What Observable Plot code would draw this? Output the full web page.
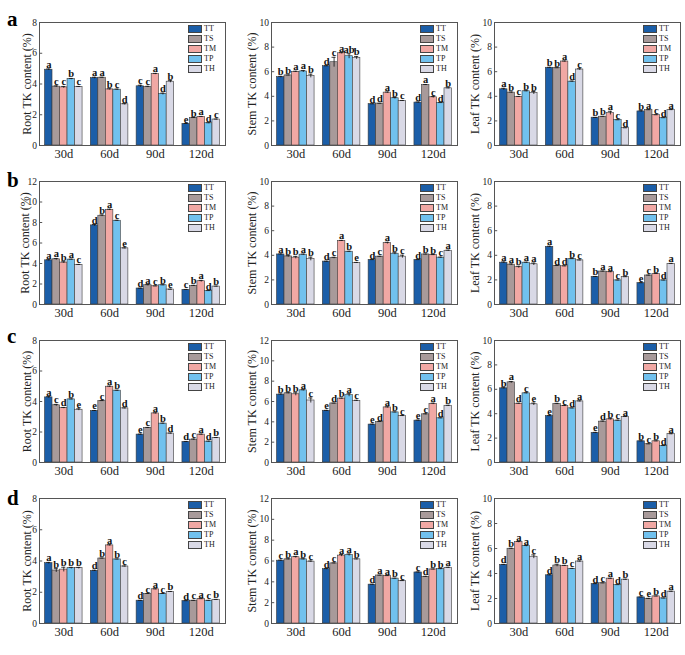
<!DOCTYPE html>
<html><head><meta charset="utf-8">
<script src="https://cdn.jsdelivr.net/npm/d3@7"></script>
<script src="https://cdn.jsdelivr.net/npm/@observablehq/plot@0.6"></script>
<style>
body{margin:0;background:#fff;}
#fig{position:relative;width:685px;height:655px;font-family:"Liberation Serif","Times New Roman",serif;overflow:hidden;}
.panel{position:absolute;}
.plabel{position:absolute;font-weight:bold;font-size:21px;line-height:1;}
.leg{position:absolute;font-size:8px;line-height:1;color:#222;}
.legrow{display:flex;align-items:center;height:10px;}
.sw{width:14px;height:8px;border:0.8px solid #444;box-sizing:border-box;margin-right:2px;}
</style>
</head><body>
<div id="fig"></div>
<script>
// ---------- data ----------
const days = ["30d", "60d", "90d", "120d"];
const treatments = ["TT", "TS", "TM", "TP", "TH"];
const colors = ["#1b5ea8", "#a89a9a", "#f1a8a4", "#71c1ee", "#d9d9e6"];

// row a
const aRoot = [[4.93,3.83,3.78,4.32,3.81],[4.39,4.41,3.65,3.63,2.68],[3.85,3.81,4.65,3.35,4.15],[1.41,1.79,1.86,1.45,1.69]];
const aRootErr = [[0.05,0.05,0.06,0.04,0.03],[0.05,0.03,0.04,0.04,0.04],[0.07,0.04,0.04,0.06,0.07],[0.02,0.03,0.03,0.03,0.03]];
const aRootSig = ["accbc","aabcd","ccadb","ebadc"];
const aStem = [[5.56,5.70,5.99,6.02,5.65],[6.45,6.77,7.50,7.26,7.12],[3.36,3.41,4.30,3.84,3.63],[3.49,4.92,3.92,3.47,4.65]];
const aStemErr = [[0.06,0.03,0.05,0.08,0.15],[0.03,0.40,0.05,0.20,0.12],[0.03,0.02,0.05,0.06,0.03],[0.05,0.04,0.06,0.02,0.04]];
const aStemSig = [["b","b","a","a","b"],["d","c","a","ab","b"],["d","d","a","b","c"],["d","a","c","d","b"]];
const aLeaf = [[4.57,4.30,3.95,4.41,4.27],[6.32,6.29,6.83,5.19,6.18],[2.26,2.34,2.63,2.07,1.42],[2.77,2.88,2.47,2.23,2.88]];
const aLeafErr = [[0.08,0.05,0.04,0.04,0.12],[0.04,0.03,0.04,0.05,0.06],[0.02,0.03,0.15,0.02,0.02],[0.06,0.03,0.03,0.03,0.04]];
const aLeafSig = ["abcbb","bbadc","bbacd","bacda"];
// row b
const bRoot = [[4.31,4.41,4.09,4.38,3.86],[7.72,8.66,9.24,8.17,5.48],[1.56,1.88,1.78,1.88,1.46],[1.43,1.82,2.27,1.33,1.75]];
const bRootErr = [[0.06,0.08,0.08,0.04,0.05],[0.08,0.08,0.06,0.05,0.04],[0.03,0.06,0.03,0.04,0.03],[0.04,0.05,0.08,0.03,0.04]];
const bRootSig = ["aabac","dbace","dacbe","cbadb"];
const bStem = [[4.07,3.91,3.81,4.05,3.70],[3.49,3.78,5.17,4.29,3.38],[3.62,3.89,4.99,4.13,3.89],[3.62,4.07,4.02,3.81,4.37]];
const bStemErr = [[0.04,0.06,0.10,0.05,0.15],[0.03,0.06,0.04,0.04,0.04],[0.03,0.03,0.07,0.08,0.12],[0.03,0.03,0.04,0.04,0.05]];
const bStemSig = ["abbab","dcabe","dcabc","dbbca"];
const bLeaf = [[3.40,3.24,3.03,3.40,3.27],[4.69,3.14,3.11,3.70,3.59],[2.25,2.68,2.63,1.96,2.23],[1.74,2.36,2.49,1.96,3.30]];
const bLeafErr = [[0.06,0.06,0.08,0.04,0.10],[0.05,0.03,0.03,0.03,0.03],[0.03,0.04,0.04,0.03,0.03],[0.03,0.03,0.03,0.03,0.04]];
const bLeafSig = ["aabaa","addbc","baacb","ecbda"];
// row c
const cRoot = [[4.27,3.75,3.57,4.14,3.46],[3.38,4.03,4.97,4.71,3.55],[1.83,2.27,3.22,2.55,1.90],[1.35,1.50,1.83,1.37,1.61]];
const cRootErr = [[0.05,0.06,0.04,0.03,0.06],[0.03,0.03,0.04,0.03,0.03],[0.03,0.03,0.04,0.03,0.03],[0.03,0.04,0.03,0.03,0.03]];
const cRootSig = ["acdbe","ecabd","ecabd","dcadb"];
const cStem = [[6.68,6.81,6.71,7.10,6.10],[5.09,5.81,6.29,6.62,6.07],[3.73,3.99,5.42,4.93,4.57],[4.12,4.74,5.77,4.35,5.58]];
const cStemErr = [[0.06,0.05,0.15,0.06,0.25],[0.04,0.03,0.04,0.15,0.05],[0.04,0.04,0.06,0.04,0.05],[0.05,0.05,0.07,0.04,0.05]];
const cStemSig = ["bbbac","edbac","edabc","ecadb"];
const cLeaf = [[6.08,6.57,4.82,5.67,4.77],[3.81,4.80,4.63,4.44,5.01],[2.43,3.35,3.54,3.43,3.73],[1.74,1.50,1.74,1.36,2.32]];
const cLeafErr = [[0.05,0.07,0.04,0.05,0.10],[0.03,0.05,0.04,0.03,0.04],[0.04,0.05,0.05,0.04,0.04],[0.03,0.03,0.03,0.03,0.04]];
const cLeafSig = ["badce","ebcda","edbca","bcbda"];
// row d
const dRoot = [[3.86,3.39,3.45,3.54,3.54],[3.37,4.16,5.00,4.10,3.65],[1.46,1.89,2.19,1.89,2.02],[1.44,1.46,1.57,1.46,1.52]];
const dRootErr = [[0.05,0.12,0.15,0.05,0.05],[0.04,0.03,0.04,0.03,0.03],[0.02,0.03,0.03,0.03,0.03],[0.02,0.02,0.02,0.02,0.02]];
const dRootSig = ["abbbb","dbabc","dcacb","dcacb"];
const dStem = [[6.03,6.16,6.36,6.16,5.94],[5.22,5.77,6.52,6.58,6.16],[3.73,4.61,4.57,4.31,4.09],[4.90,4.48,5.19,5.22,5.35]];
const dStemErr = [[0.05,0.05,0.08,0.05,0.06],[0.05,0.05,0.10,0.10,0.04],[0.04,0.03,0.03,0.04,0.03],[0.05,0.05,0.04,0.05,0.05]];
const dStemSig = ["cbabc","dcaab","daabc","cdbba"];
const dLeaf = [[4.69,5.98,6.51,6.19,5.34],[3.86,4.64,4.61,4.37,4.96],[3.16,3.22,3.59,3.08,3.51],[2.09,1.98,2.17,2.01,2.55]];
const dLeafErr = [[0.04,0.04,0.05,0.05,0.15],[0.04,0.10,0.04,0.04,0.04],[0.03,0.03,0.03,0.03,0.03],[0.03,0.03,0.03,0.03,0.03]];
const dLeafSig = ["dbaac","dbbca","dcadb","cebda"];

const yLabels = ["Root TK content (%)", "Stem TK content (%)", "Leaf TK content (%)"];
const rowLetters = ["a", "b", "c", "d"];
const yMaxes = [[8,10,10],[12,10,10],[8,12,10],[8,12,10]];

const panels = [
  [[aRoot,aRootErr,aRootSig],[aStem,aStemErr,aStemSig],[aLeaf,aLeafErr,aLeafSig]],
  [[bRoot,bRootErr,bRootSig],[bStem,bStemErr,bStemSig],[bLeaf,bLeafErr,bLeafSig]],
  [[cRoot,cRootErr,cRootSig],[cStem,cStemErr,cStemSig],[cLeaf,cLeafErr,cLeafSig]],
  [[dRoot,dRootErr,dRootSig],[dStem,dStemErr,dStemSig],[dLeaf,dLeafErr,dLeafSig]]
];

// ---------- layout ----------
const colLeft = [39, 271, 494];
const rowTop = [22, 181, 340, 498];
const rowBottom = [145, 304, 462, 623];
const frameW = 186;
const letterTop = [9, 170, 326, 488];
const step = 0.164;   // bar width in group units
const xDom = [-0.53, 3.53];

const fig = document.getElementById("fig");

panels.forEach((row, r) => {
  const lt = document.createElement("div");
  lt.className = "plabel";
  lt.style.left = "7px"; lt.style.top = letterTop[r] + "px";
  lt.textContent = rowLetters[r];
  fig.appendChild(lt);

  row.forEach(([vals, errs, sigs], c) => {
    const yMax = yMaxes[r][c];
    const data = [];
    vals.forEach((grp, g) => grp.forEach((v, i) => {
      const cx = g + (i - 2) * step;
      data.push({t: treatments[i], x: cx, x1: cx - step/2, x2: cx + step/2, v, e: errs[g][i], s: sigs[g][i]});
    }));
    const fl = colLeft[c];
    const svgLeft = Math.max(0, fl - 42);
    const mL = fl - svgLeft, mT = 8, mR = 4, mB = 26;
    const H = rowBottom[r] - rowTop[r];
    const yt = d3.range(0, yMax + 0.1, 2);
    const labOff = c === 0 ? (yMax >= 10 ? 14 : 12) : 19;
    const cap = 0.045;
    const chart = Plot.plot({
      width: mL + frameW + mR, height: mT + H + mB,
      marginLeft: mL, marginTop: mT, marginRight: mR, marginBottom: mB,
      style: {fontFamily: "Liberation Serif, Times New Roman, serif", color: "#222", background: "transparent", overflow: "visible"},
      x: {domain: xDom},
      y: {domain: [0, yMax]},
      color: {domain: treatments, range: colors},
      marks: [
        Plot.rect(data, {x1: "x1", x2: "x2", y1: d => 0, y2: "v", fill: "t", stroke: "#3a3a3a", strokeWidth: 0.6}),
        Plot.ruleX(data, {x: "x", y1: d => d.v - d.e, y2: d => d.v + d.e, stroke: "#111", strokeWidth: 0.8}),
        Plot.ruleY(data, {x1: d => d.x - cap, x2: d => d.x + cap, y: d => d.v + d.e, stroke: "#111", strokeWidth: 0.8}),
        Plot.text(data, {x: "x", y: d => d.v + d.e, text: "s", dy: -1, lineAnchor: "bottom", fontWeight: "bold", fontSize: 10.5, fill: "#111"}),
        Plot.ruleY(yt, {y: d => d, x1: d => xDom[0], x2: d => xDom[0] + 0.07, stroke: "#555"}),
        Plot.frame({stroke: "#555", strokeWidth: 1}),
        Plot.axisX({ticks: [0,1,2,3], tickFormat: i => days[i], tickSize: 0, tickPadding: 4, fontSize: 12.5, label: null}),
        Plot.axisY({ticks: yt, tickSize: 0, tickPadding: 2.5, fontSize: 9.5, label: null}),
        Plot.text([yLabels[c]], {frameAnchor: "left", text: d => d, rotate: -90, dx: -labOff, textAnchor: "middle", lineAnchor: "middle", fontSize: 12, fill: "#222"})
      ]
    });
    const wrap = document.createElement("div");
    wrap.className = "panel";
    wrap.style.left = svgLeft + "px";
    wrap.style.top = (rowTop[r] - mT) + "px";
    wrap.appendChild(chart);
    fig.appendChild(wrap);

    // legend
    const leg = document.createElement("div");
    leg.className = "leg";
    leg.style.left = (fl + frameW - 37) + "px";
    leg.style.top = (rowTop[r] + 2) + "px";
    treatments.forEach((t, i) => {
      const rowEl = document.createElement("div");
      rowEl.className = "legrow";
      const sw = document.createElement("div");
      sw.className = "sw"; sw.style.background = colors[i];
      const tx = document.createElement("span");
      tx.textContent = t;
      rowEl.appendChild(sw); rowEl.appendChild(tx);
      leg.appendChild(rowEl);
    });
    fig.appendChild(leg);
  });
});
</script>
</body></html>
